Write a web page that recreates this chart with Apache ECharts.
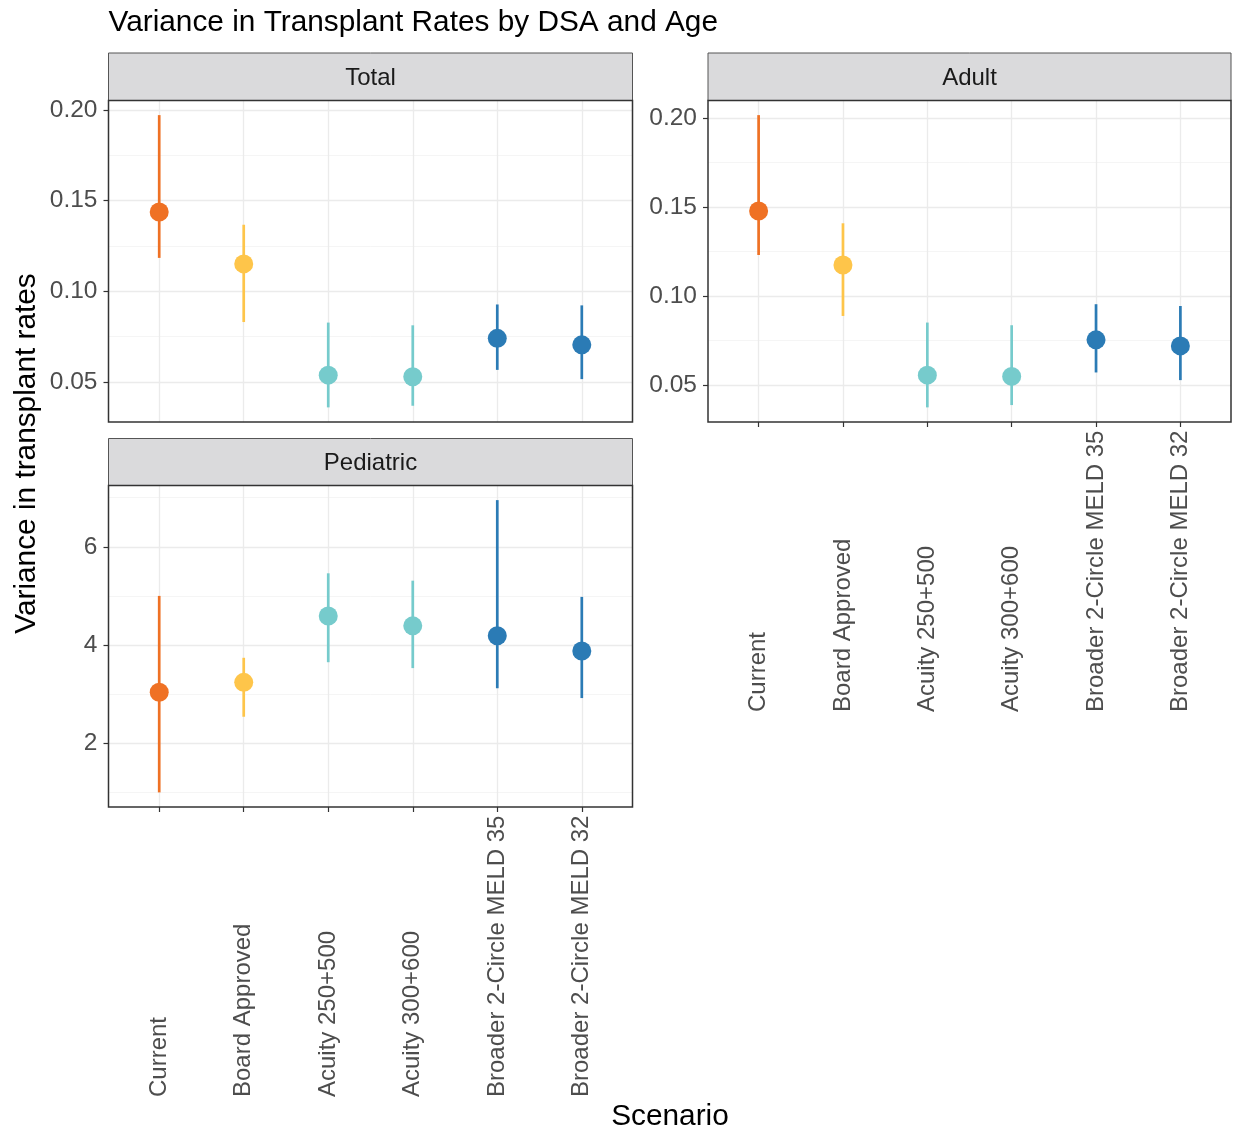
<!DOCTYPE html>
<html><head><meta charset="utf-8">
<script src="https://cdn.jsdelivr.net/npm/echarts@6/dist/echarts.min.js"></script>
<style>html,body{margin:0;padding:0;background:#fff}#c{width:1236px;height:1133px}</style>
</head><body><div id="c"></div>
<script>
// ---------- data ----------
const categories = ['Current', 'Board Approved', 'Acuity 250+500', 'Acuity 300+600',
  'Broader 2-Circle MELD 35', 'Broader 2-Circle MELD 32'];
const colors = ['#EF7124', '#FEC54A', '#76CBCC', '#76CBCC', '#2B7BB5', '#2B7BB5'];

const totalMid  = [0.1437, 0.1151, 0.0537, 0.0528, 0.0740, 0.0704];
const totalLow  = [0.1184, 0.0830, 0.0359, 0.0368, 0.0566, 0.0515];
const totalHigh = [0.1972, 0.1367, 0.0827, 0.0812, 0.0927, 0.0922];

const adultMid  = [0.1477, 0.1174, 0.0556, 0.0549, 0.0754, 0.0720];
const adultLow  = [0.1230, 0.0888, 0.0375, 0.0388, 0.0571, 0.0528];
const adultHigh = [0.2015, 0.1408, 0.0851, 0.0836, 0.0954, 0.0944];

const pedMid  = [3.04, 3.24, 4.59, 4.39, 4.19, 3.88];
const pedLow  = [1.00, 2.54, 3.65, 3.53, 3.12, 2.92];
const pedHigh = [5.00, 3.74, 5.46, 5.31, 6.95, 4.98];

const rateTicks  = [0.05, 0.10, 0.15, 0.20];
const rateMinor  = [0.075, 0.125, 0.175];
const pedTicks   = [2, 4, 6];
const pedMinor   = [1, 3, 5, 7];

const titleText = 'Variance in Transplant Rates by DSA and Age';
const yTitle = 'Variance in transplant rates';
const xTitle = 'Scenario';

// ---------- layout ----------
const FONT = '"Liberation Sans", Arial, Helvetica, sans-serif';
const W = 1236;
const panels = [
  {name: 'Total', mid: totalMid, low: totalLow, high: totalHigh, ticks: rateTicks, minor: rateMinor, dec: 2,
   L: 108.5, R: 632.5, T: 100.5, B: 422, S: 53, showX: false},
  {name: 'Adult', mid: adultMid, low: adultLow, high: adultHigh, ticks: rateTicks, minor: rateMinor, dec: 2,
   L: 708, R: 1231, T: 100.5, B: 422, S: 53, showX: true},
  {name: 'Pediatric', mid: pedMid, low: pedLow, high: pedHigh, ticks: pedTicks, minor: pedMinor, dec: 0,
   L: 108.5, R: 632.5, T: 485.5, B: 807, S: 438.5, showX: true}
];

const grids = [], xAxes = [], yAxes = [], series = [], graphics = [];
const r6 = v => +v.toFixed(6);

panels.forEach((p, k) => {
  const lo = Math.min(...p.low), hi = Math.max(...p.high);
  const pad = 0.05 * (hi - lo);
  const e0 = lo - pad, e1 = hi + pad;
  const px = v => p.B - (v - e0) / (e1 - e0) * (p.B - p.T);

  // major gridline / tick grid
  const mt = px(p.ticks[p.ticks.length - 1]), mb = px(p.ticks[0]);
  grids.push({left: p.L, right: W - p.R, top: mt, height: mb - mt, containLabel: false});
  xAxes.push({type: 'value', gridIndex: 3 * k, show: false, min: 0, max: 1});
  yAxes.push({type: 'value', gridIndex: 3 * k, min: p.ticks[0], max: p.ticks[p.ticks.length - 1],
    interval: r6(p.ticks[1] - p.ticks[0]),
    axisLine: {show: false},
    axisTick: {show: true, length: 5, lineStyle: {color: '#333', width: 1.2}},
    axisLabel: {show: true, margin: 11, fontSize: 24.5, fontFamily: FONT, color: '#4D4D4D',
      formatter: v => v.toFixed(p.dec)},
    splitLine: {show: true, lineStyle: {color: '#EBEBEB', width: 1.3}}
  });

  // minor gridline grid
  const nt = px(p.minor[p.minor.length - 1]), nb = px(p.minor[0]);
  grids.push({left: p.L, right: W - p.R, top: nt, height: nb - nt, containLabel: false});
  xAxes.push({type: 'value', gridIndex: 3 * k + 1, show: false, min: 0, max: 1});
  yAxes.push({type: 'value', gridIndex: 3 * k + 1, min: p.minor[0], max: p.minor[p.minor.length - 1],
    interval: r6(p.minor[1] - p.minor[0]),
    axisLine: {show: false}, axisTick: {show: false}, axisLabel: {show: false},
    splitLine: {show: true, lineStyle: {color: '#F0F0F0', width: 0.7}}
  });

  // data grid (inner x range: ggplot discrete expansion 0.6)
  const d = 0.6 * (p.R - p.L) / (categories.length + 0.2);
  grids.push({left: p.L + d, right: W - (p.R - d), top: p.T, height: p.B - p.T, containLabel: false});
  xAxes.push({type: 'category', gridIndex: 3 * k + 2, data: categories, boundaryGap: false,
    axisLine: {show: false},
    axisTick: {show: p.showX, interval: 0, length: 5, lineStyle: {color: '#333', width: 1.2}},
    axisLabel: {show: p.showX, interval: 0, rotate: 90, align: 'left', verticalAlign: 'middle',
      margin: 290, fontSize: 24, fontFamily: FONT, color: '#4D4D4D'},
    splitLine: {show: true, interval: 0, lineStyle: {color: '#EBEBEB', width: 1.3}}
  });
  yAxes.push({type: 'value', gridIndex: 3 * k + 2, min: e0, max: e1, show: false,
    splitLine: {show: false}});

  series.push({
    type: 'custom', xAxisIndex: 3 * k + 2, yAxisIndex: 3 * k + 2, z: 3,
    data: categories.map((c, i) => [i, p.low[i], p.high[i]]),
    renderItem: (params, api) => {
      const i = params.dataIndex;
      const a = api.coord([api.value(0), api.value(1)]);
      const b = api.coord([api.value(0), api.value(2)]);
      return {type: 'line', shape: {x1: a[0], y1: a[1], x2: b[0], y2: b[1]},
        style: {stroke: colors[i], lineWidth: 2.7}};
    }
  });
  series.push({
    type: 'scatter', xAxisIndex: 3 * k + 2, yAxisIndex: 3 * k + 2, z: 4,
    symbolSize: 19,
    data: p.mid.map((v, i) => ({value: [i, v], itemStyle: {color: colors[i], opacity: 1}}))
  });

  // strip + border
  graphics.push({type: 'rect', z: 50, shape: {x: p.L, y: p.S, width: p.R - p.L, height: p.T - p.S},
    style: {fill: '#DADADC', stroke: '#555', lineWidth: 1}});
  graphics.push({type: 'text', z: 51, x: (p.L + p.R) / 2, y: (p.S + p.T) / 2 + 1.5,
    style: {text: p.name, font: '24px ' + FONT, fill: '#1A1A1A',
      textAlign: 'center', textVerticalAlign: 'middle', align: 'center', verticalAlign: 'middle'}});
  graphics.push({type: 'rect', z: 60, shape: {x: p.L, y: p.T, width: p.R - p.L, height: p.B - p.T},
    style: {fill: 'none', stroke: '#333', lineWidth: 1.5}});
});

graphics.push({type: 'text', z: 51, x: 108.5, y: 22.5,
  style: {text: titleText, font: '29.8px ' + FONT, fill: '#000',
    textAlign: 'left', textVerticalAlign: 'middle', align: 'left', verticalAlign: 'middle'}});
graphics.push({type: 'text', z: 51, x: 27, y: 453.5, rotation: Math.PI / 2,
  style: {text: yTitle, font: '29.8px ' + FONT, fill: '#000',
    textAlign: 'center', textVerticalAlign: 'middle', align: 'center', verticalAlign: 'middle'}});
graphics.push({type: 'text', z: 51, x: 670, y: 1117,
  style: {text: xTitle, font: '29.8px ' + FONT, fill: '#000',
    textAlign: 'center', textVerticalAlign: 'middle', align: 'center', verticalAlign: 'middle'}});

const chart = echarts.init(document.getElementById('c'), null, {renderer: 'canvas'});
chart.setOption({
  animation: false,
  backgroundColor: '#fff',
  grid: grids, xAxis: xAxes, yAxis: yAxes, series: series, graphic: graphics
});
</script></body></html>
